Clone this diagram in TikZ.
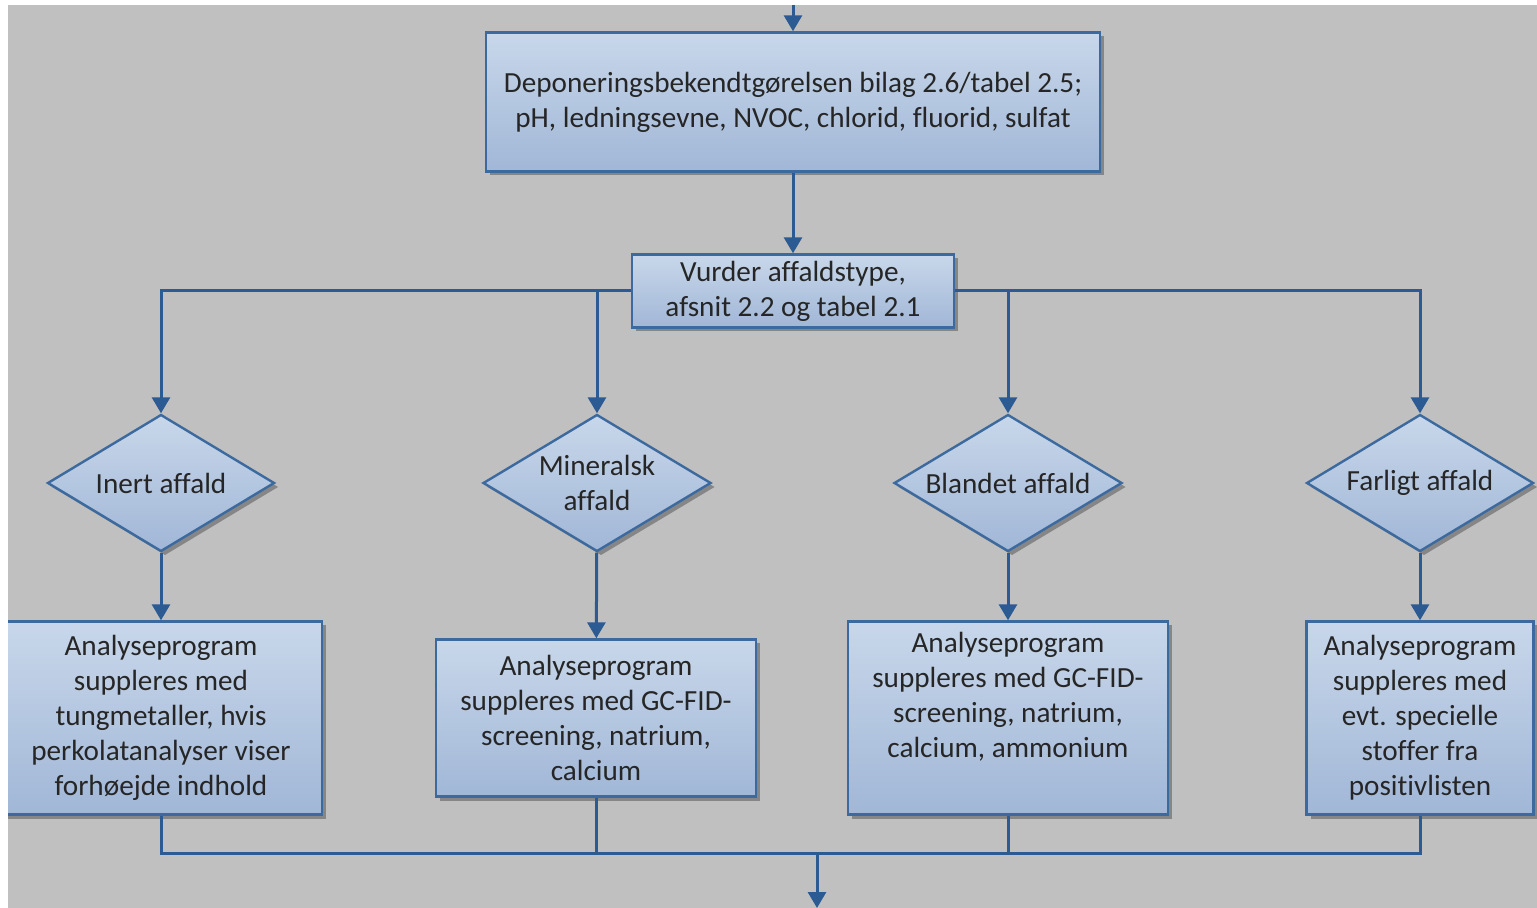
\documentclass[tikz,border=0pt]{standalone}
\usepackage{fontspec}
\setmainfont{Carlito}[Ligatures=NoCommon]
\usepackage{tikz}
\usetikzlibrary{arrows.meta,positioning,shapes.geometric,shadows}
\definecolor{pagegray}{HTML}{C0C0C0}
\definecolor{boxtop}{HTML}{C8D7EA}
\definecolor{boxbottom}{HTML}{A1B7D7}
\definecolor{boxborder}{HTML}{3D6A9E}
\definecolor{flowblue}{HTML}{2C5A92}
\definecolor{darktext}{HTML}{262626}

\begin{document}
\begin{tikzpicture}[
    x=0.5pt, y=-0.5pt,
    process/.style={
        draw=boxborder,
        line width=1.2pt,
        top color=boxtop,
        bottom color=boxbottom,
        align=center,
        text=darktext,
        font=\fontsize{14.6}{17.5}\selectfont,
        inner sep=0pt,
        drop shadow={shadow xshift=2pt, shadow yshift=-2pt, fill=black, opacity=0.3}
    },
    decision/.style={process, shape=diamond, aspect=1.66},
    flow/.style={-{Triangle[width=9pt,length=8pt]}, line width=1.5pt, draw=flowblue},
    link/.style={line width=1.5pt, draw=flowblue}
]
    \useasboundingbox (0,0) rectangle (1537,908);
    \fill[white] (0,0) rectangle (1537,908);
    \fill[pagegray] (8,5) rectangle (1537,908);

    \begin{scope}
    \clip (8,5) rectangle (1537,908);

    \node[process, minimum width=307pt, minimum height=69.5pt] (depo) at (793,102) {
        Deponeringsbekendtgørelsen bilag 2.6/tabel 2.5;\\
        pH, ledningsevne, NVOC, chlorid, fluorid, sulfat
    };

    \node[process, minimum width=161pt, minimum height=36.5pt] (vurder) at (793,291) {
        Vurder affaldstype,\\
        afsnit 2.2 og tabel 2.1
    };

    % affaldstyper
    \node[decision, minimum width=113.5pt, minimum height=68.5pt] (inert) at (161,483) {Inert affald};
    \node[decision, minimum width=114pt, minimum height=68.5pt] (mineralsk) at (597,483) {Mineralsk\\ affald};
    \node[decision, minimum width=114pt, minimum height=68.5pt] (blandet) at (1008,483) {Blandet affald};
    \node[decision, minimum width=113.5pt, minimum height=68.5pt] (farligt) at (1420,483) {Farligt affald};

    % analyseprogrammer
    \node[process, minimum width=161pt, minimum height=96.5pt] (progA) at (161,718) {
        Analyseprogram\\
        suppleres med\\
        tungmetaller, hvis\\
        perkolatanalyser viser\\
        forhøejde indhold
    };
    \node[process, minimum width=160pt, minimum height=78.5pt] (progB) at (596,718) {
        Analyseprogram\\
        suppleres med GC-FID-\\
        screening, natrium,\\
        calcium
    };
    \node[process, minimum width=160pt, minimum height=96.5pt] (progC) at (1008,718) {
        Analyseprogram\\
        suppleres med GC-FID-\\
        screening, natrium,\\
        calcium, ammonium\\
        \strut
    };
    \node[process, minimum width=113.5pt, minimum height=96.5pt] (progD) at (1420,718) {
        Analyseprogram\\
        suppleres med\\
        evt. specielle\\
        stoffer fra\\
        positivlisten
    };

    \coordinate (ind) at (793,5);
    \coordinate (samle) at (817,853);
    \coordinate (ud) at (817,908);

    \draw[flow] (ind) -- (depo);
    \draw[flow] (depo) -- (vurder);

    \draw[flow] (vurder.west) -| (inert);
    \draw[flow] (vurder.east) -| (farligt);
    \draw[flow] (vurder.west -| mineralsk.north) -- (mineralsk);
    \draw[flow] (vurder.east -| blandet.north) -- (blandet);

    \draw[flow] (inert) -- (progA);
    \draw[flow] (mineralsk) -- (progB);
    \draw[flow] (blandet) -- (progC);
    \draw[flow] (farligt) -- (progD);

    \draw[link] (progA) |- (samle) -| (progD);
    \draw[link] (progB) -- (progB |- samle);
    \draw[link] (progC) -- (progC |- samle);
    \draw[flow] (samle) -- (ud);
    \end{scope}
\end{tikzpicture}
\end{document}
